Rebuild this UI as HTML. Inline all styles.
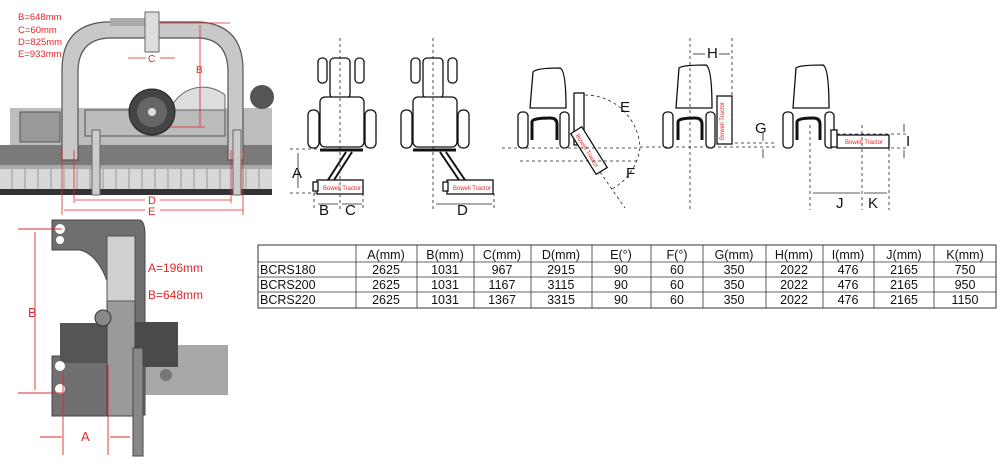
<!DOCTYPE html>
<html><head><meta charset="utf-8"><style>
body{margin:0;background:#fff;width:1000px;height:466px;overflow:hidden}
svg{display:block}
text{font-family:"Liberation Sans",Arial,sans-serif}
</style></head><body>
<svg width="1000" height="466" viewBox="0 0 1000 466" xmlns="http://www.w3.org/2000/svg">
<!-- TOP LEFT MACHINE PHOTO -->
<g>
<rect x="10" y="108" width="262" height="40" fill="#bdbdbd"/>
<rect x="0" y="145" width="272" height="20" fill="#7a7a7a"/>
<rect x="0" y="165" width="272" height="4" fill="#aaa"/>
<rect x="0" y="169" width="272" height="20" fill="#d8d8d8"/>
<g stroke="#999" stroke-width="1">
<line x1="12" y1="169" x2="12" y2="189"/><line x1="25" y1="169" x2="25" y2="189"/><line x1="38" y1="169" x2="38" y2="189"/><line x1="51" y1="169" x2="51" y2="189"/><line x1="64" y1="169" x2="64" y2="189"/><line x1="77" y1="169" x2="77" y2="189"/><line x1="90" y1="169" x2="90" y2="189"/><line x1="103" y1="169" x2="103" y2="189"/><line x1="116" y1="169" x2="116" y2="189"/><line x1="129" y1="169" x2="129" y2="189"/><line x1="142" y1="169" x2="142" y2="189"/><line x1="155" y1="169" x2="155" y2="189"/><line x1="168" y1="169" x2="168" y2="189"/><line x1="181" y1="169" x2="181" y2="189"/><line x1="194" y1="169" x2="194" y2="189"/><line x1="207" y1="169" x2="207" y2="189"/><line x1="220" y1="169" x2="220" y2="189"/><line x1="233" y1="169" x2="233" y2="189"/><line x1="246" y1="169" x2="246" y2="189"/><line x1="259" y1="169" x2="259" y2="189"/>
</g>
<rect x="0" y="189" width="272" height="6" fill="#333"/>
<rect x="20" y="112" width="40" height="30" fill="#999" stroke="#555"/>
<!-- arch -->
<path d="M62 160 V70 Q62 25 105 22 H200 Q243 25 243 70 V160 H228 V72 Q228 40 200 38 H108 Q78 40 78 72 V160 Z" fill="#c8c8c8" stroke="#555" stroke-width="1.2"/>
<rect x="85" y="110" width="140" height="26" fill="#bbb" stroke="#555"/>
<rect x="92" y="130" width="8" height="65" fill="#ccc" stroke="#666"/>
<rect x="233" y="130" width="8" height="65" fill="#ccc" stroke="#666"/>
<path d="M170 110 A35 35 0 0 1 225 95 L225 110 Z" fill="#ddd" stroke="#666"/>
<circle cx="152" cy="112" r="23" fill="#444" stroke="#222"/>
<circle cx="152" cy="112" r="15" fill="#666"/>
<circle cx="152" cy="112" r="4" fill="#ddd"/>
<circle cx="262" cy="97" r="12" fill="#555"/>
<rect x="110" y="18" width="40" height="8" fill="#aaa"/>
<rect x="145" y="12" width="14" height="40" fill="#ddd" stroke="#666"/>
</g>
<!-- red dims top -->
<g fill="#e0282c" font-size="9.5">
<text x="18" y="20">B=648mm</text><text x="18" y="33">C=60mm</text><text x="18" y="45">D=825mm</text><text x="18" y="57">E=933mm</text>
<text x="148" y="62" font-size="10">C</text><text x="196" y="73" font-size="10">B</text>
<text x="148" y="204" font-size="11">D</text><text x="148" y="215" font-size="11">E</text>
</g>
<g stroke="#e0282c" stroke-width="0.8" fill="none">
<line x1="160" y1="23" x2="230" y2="23"/><line x1="200" y1="25" x2="200" y2="127"/><line x1="170" y1="127" x2="205" y2="127"/>
<line x1="128" y1="58" x2="146" y2="58"/><line x1="160" y1="58" x2="175" y2="58"/>
<line x1="75" y1="200" x2="145" y2="200"/><line x1="160" y1="200" x2="231" y2="200"/>
<line x1="64" y1="210" x2="145" y2="210"/><line x1="160" y1="210" x2="243" y2="210"/>
<line x1="74" y1="150" x2="74" y2="203"/><line x1="231" y1="150" x2="231" y2="203"/>
<line x1="62" y1="150" x2="62" y2="215"/><line x1="243" y1="150" x2="243" y2="215"/>
</g>
<!-- BOTTOM LEFT BRACKET -->
<g>
<rect x="140" y="345" width="88" height="50" fill="#a8a8a8"/>
<path d="M52 220 H140 Q145 222 145 235 V415 H52 V360 H110 V290 Q100 255 80 250 H52 Z" fill="#6f6f6f" stroke="#444"/>
<rect x="52" y="356" width="58" height="60" fill="#707070" stroke="#444"/>
<rect x="60" y="323" width="48" height="40" fill="#555"/>
<rect x="133" y="322" width="45" height="45" fill="#4a4a4a"/>
<rect x="107" y="236" width="28" height="180" fill="#9a9a9a" stroke="#444"/>
<rect x="107" y="236" width="28" height="65" fill="#d0d0d0" stroke="#555"/>
<circle cx="103" cy="318" r="8" fill="#888" stroke="#333"/>
<rect x="133" y="348" width="10" height="108" fill="#888" stroke="#444"/>
<circle cx="60" cy="229" r="5" fill="#fff"/><circle cx="60" cy="240" r="4" fill="#fff"/>
<circle cx="60" cy="366" r="5" fill="#fff"/><circle cx="60" cy="389" r="5" fill="#fff"/>
<circle cx="166" cy="375" r="6" fill="#777"/>
</g>
<g stroke="#e0282c" stroke-width="0.9" fill="none">
<line x1="18" y1="229" x2="62" y2="229"/><line x1="18" y1="393" x2="62" y2="393"/>
<line x1="35" y1="232" x2="35" y2="390"/>
<line x1="63" y1="372" x2="63" y2="455"/><line x1="108" y1="365" x2="108" y2="455"/>
<line x1="40" y1="437" x2="62" y2="437"/><line x1="110" y1="437" x2="130" y2="437"/>
</g>
<g fill="#e0282c"><text x="28" y="317" font-size="13">B</text><text x="81" y="441" font-size="13">A</text>
<text x="148" y="272" font-size="12">A=196mm</text><text x="148" y="299" font-size="12">B=648mm</text></g>
<!-- TRACTOR DIAGRAMS -->
<g fill="#fff" stroke="#111" stroke-width="1.3">
<!-- 1 -->
<rect x="318" y="58" width="9" height="25" rx="4"/><rect x="355" y="58" width="9" height="25" rx="4"/>
<rect x="330" y="58" width="20" height="40" rx="4"/>
<rect x="320" y="97" width="44" height="50" rx="5"/>
<rect x="308" y="110" width="11" height="38" rx="5"/><rect x="365" y="110" width="11" height="38" rx="5"/>
<rect x="317" y="180" width="46" height="14"/><rect x="313" y="182" width="5" height="9"/>
<!-- 2 -->
<rect x="411" y="58" width="9" height="25" rx="4"/><rect x="448" y="58" width="9" height="25" rx="4"/>
<rect x="423" y="58" width="20" height="40" rx="4"/>
<rect x="413" y="97" width="44" height="50" rx="5"/>
<rect x="401" y="110" width="11" height="38" rx="5"/><rect x="458" y="110" width="11" height="38" rx="5"/>
<rect x="447" y="180" width="46" height="14"/><rect x="443" y="182" width="5" height="9"/>
<!-- 3 -->
<path d="M530 108 L533 72 Q536 68 560 68 Q566 70 566 108 Z"/>
<rect x="518" y="112" width="10" height="36" rx="4"/><rect x="560" y="112" width="9" height="36" rx="4"/>
<rect x="574" y="93" width="10" height="52"/>
<!-- 4 -->
<path d="M676 108 L679 68 Q682 65 706 65 Q712 68 712 108 Z"/>
<rect x="663" y="112" width="10" height="36" rx="4"/><rect x="706" y="112" width="9" height="36" rx="4"/>
<rect x="717" y="96" width="15" height="48"/>
<!-- 5 -->
<path d="M793 108 L796 68 Q799 65 823 65 Q829 68 829 108 Z"/>
<rect x="783" y="112" width="10" height="36" rx="4"/><rect x="825" y="112" width="9" height="36" rx="4"/>
<rect x="837" y="135" width="52" height="13"/><rect x="831" y="130" width="6" height="17"/>
</g>
<g stroke="#111" stroke-width="3" fill="none">
<line x1="320" y1="150" x2="363" y2="150"/><line x1="413" y1="150" x2="456" y2="150"/>
<path d="M532 140 V122 Q532 118 550 118 Q557 118 557 124 V140"/>
<path d="M678 140 V122 Q678 118 695 118 Q702 118 702 124 V140"/>
<path d="M797 140 V122 Q797 118 813 118 Q820 118 820 124 V140"/>
</g>
<g stroke="#111" stroke-width="2">
<line x1="346" y1="152" x2="328" y2="180"/><line x1="352" y1="152" x2="334" y2="180"/>
<line x1="440" y1="152" x2="459" y2="180"/><line x1="446" y1="152" x2="465" y2="180"/>
</g>
<g transform="rotate(58 588 150)"><rect x="565" y="143" width="48" height="13" fill="#fff" stroke="#111" stroke-width="1.3"/><text x="569" y="153" fill="#e0282c" font-size="6">Bowell Tractor</text></g>
<g fill="#e0282c" font-size="6"><text x="323" y="190">Bowell Tractor</text><text x="453" y="190">Bowell Tractor</text><text x="845" y="144">Bowell Tractor</text>
<text transform="translate(724 140) rotate(-90)">Bowell Tractor</text></g>
<g stroke="#222" stroke-width="0.8" stroke-dasharray="3,3" fill="none">
<line x1="340" y1="38" x2="340" y2="210"/><line x1="433" y1="38" x2="433" y2="212"/>
<line x1="290" y1="149" x2="330" y2="149"/><line x1="290" y1="193" x2="318" y2="193"/>
<line x1="314" y1="193" x2="314" y2="210"/><line x1="363" y1="193" x2="363" y2="210"/><line x1="494" y1="193" x2="494" y2="210"/>
<line x1="502" y1="148" x2="640" y2="148"/><line x1="520" y1="161" x2="637" y2="161"/>
<path d="M585 95 A55 55 0 0 1 640 148"/><path d="M640 148 A55 55 0 0 1 610 190"/>
<line x1="600" y1="172" x2="625" y2="208"/>
<line x1="690" y1="38" x2="690" y2="210"/><line x1="732" y1="38" x2="732" y2="145"/>
<line x1="640" y1="147" x2="775" y2="147"/><line x1="735" y1="143" x2="775" y2="143"/>
<line x1="810" y1="125" x2="810" y2="210"/><line x1="862" y1="125" x2="862" y2="210"/><line x1="889" y1="148" x2="889" y2="210"/>
<line x1="837" y1="134" x2="908" y2="134"/><line x1="837" y1="148" x2="908" y2="148"/>
</g>
<g stroke="#222" stroke-width="0.8" fill="none">
<line x1="298" y1="153" x2="298" y2="188"/><line x1="318" y1="204" x2="338" y2="204"/><line x1="342" y1="204" x2="362" y2="204"/>
<line x1="436" y1="204" x2="492" y2="204"/><line x1="693" y1="54" x2="705" y2="54"/><line x1="719" y1="54" x2="730" y2="54"/>
<line x1="813" y1="193" x2="860" y2="193"/><line x1="864" y1="193" x2="887" y2="193"/>
<line x1="763" y1="132" x2="763" y2="141"/><line x1="763" y1="149" x2="763" y2="158"/>
<line x1="904" y1="124" x2="904" y2="132"/><line x1="904" y1="150" x2="904" y2="158"/>
</g>
<g font-size="15" fill="#111">
<text x="292" y="178">A</text><text x="319" y="215">B</text><text x="345" y="215">C</text><text x="457" y="215">D</text>
<text x="620" y="112">E</text><text x="626" y="178">F</text><text x="707" y="58">H</text><text x="755" y="133">G</text>
<text x="906" y="146">I</text><text x="836" y="208">J</text><text x="868" y="208">K</text>
</g>
<!-- TABLE -->
<g font-size="12.5" fill="#111">
<rect x="258" y="245" width="738" height="63" fill="#fff" stroke="#333" stroke-width="1"/>
<g stroke="#333" stroke-width="0.8">
<line x1="258" y1="262" x2="996" y2="262"/><line x1="258" y1="277" x2="996" y2="277"/><line x1="258" y1="292" x2="996" y2="292"/>
<line x1="356" y1="245" x2="356" y2="308"/><line x1="417" y1="245" x2="417" y2="308"/><line x1="474" y1="245" x2="474" y2="308"/><line x1="531" y1="245" x2="531" y2="308"/><line x1="592" y1="245" x2="592" y2="308"/><line x1="651" y1="245" x2="651" y2="308"/><line x1="703" y1="245" x2="703" y2="308"/><line x1="766" y1="245" x2="766" y2="308"/><line x1="823" y1="245" x2="823" y2="308"/><line x1="874" y1="245" x2="874" y2="308"/><line x1="934" y1="245" x2="934" y2="308"/>
</g>
<text x="260" y="274">BCRS180</text><text x="260" y="289">BCRS200</text><text x="260" y="304">BCRS220</text>
<g text-anchor="middle">
<text x="386" y="259">A(mm)</text><text x="445" y="259">B(mm)</text><text x="502" y="259">C(mm)</text><text x="561" y="259">D(mm)</text><text x="621" y="259">E(°)</text><text x="677" y="259">F(°)</text><text x="734" y="259">G(mm)</text><text x="794" y="259">H(mm)</text><text x="848" y="259">I(mm)</text><text x="904" y="259">J(mm)</text><text x="965" y="259">K(mm)</text>
<text x="386" y="274">2625</text><text x="445" y="274">1031</text><text x="502" y="274">967</text><text x="561" y="274">2915</text><text x="621" y="274">90</text><text x="677" y="274">60</text><text x="734" y="274">350</text><text x="794" y="274">2022</text><text x="848" y="274">476</text><text x="904" y="274">2165</text><text x="965" y="274">750</text>
<text x="386" y="289">2625</text><text x="445" y="289">1031</text><text x="502" y="289">1167</text><text x="561" y="289">3115</text><text x="621" y="289">90</text><text x="677" y="289">60</text><text x="734" y="289">350</text><text x="794" y="289">2022</text><text x="848" y="289">476</text><text x="904" y="289">2165</text><text x="965" y="289">950</text>
<text x="386" y="304">2625</text><text x="445" y="304">1031</text><text x="502" y="304">1367</text><text x="561" y="304">3315</text><text x="621" y="304">90</text><text x="677" y="304">60</text><text x="734" y="304">350</text><text x="794" y="304">2022</text><text x="848" y="304">476</text><text x="904" y="304">2165</text><text x="965" y="304">1150</text>
</g></g>
</svg>
</body></html>
